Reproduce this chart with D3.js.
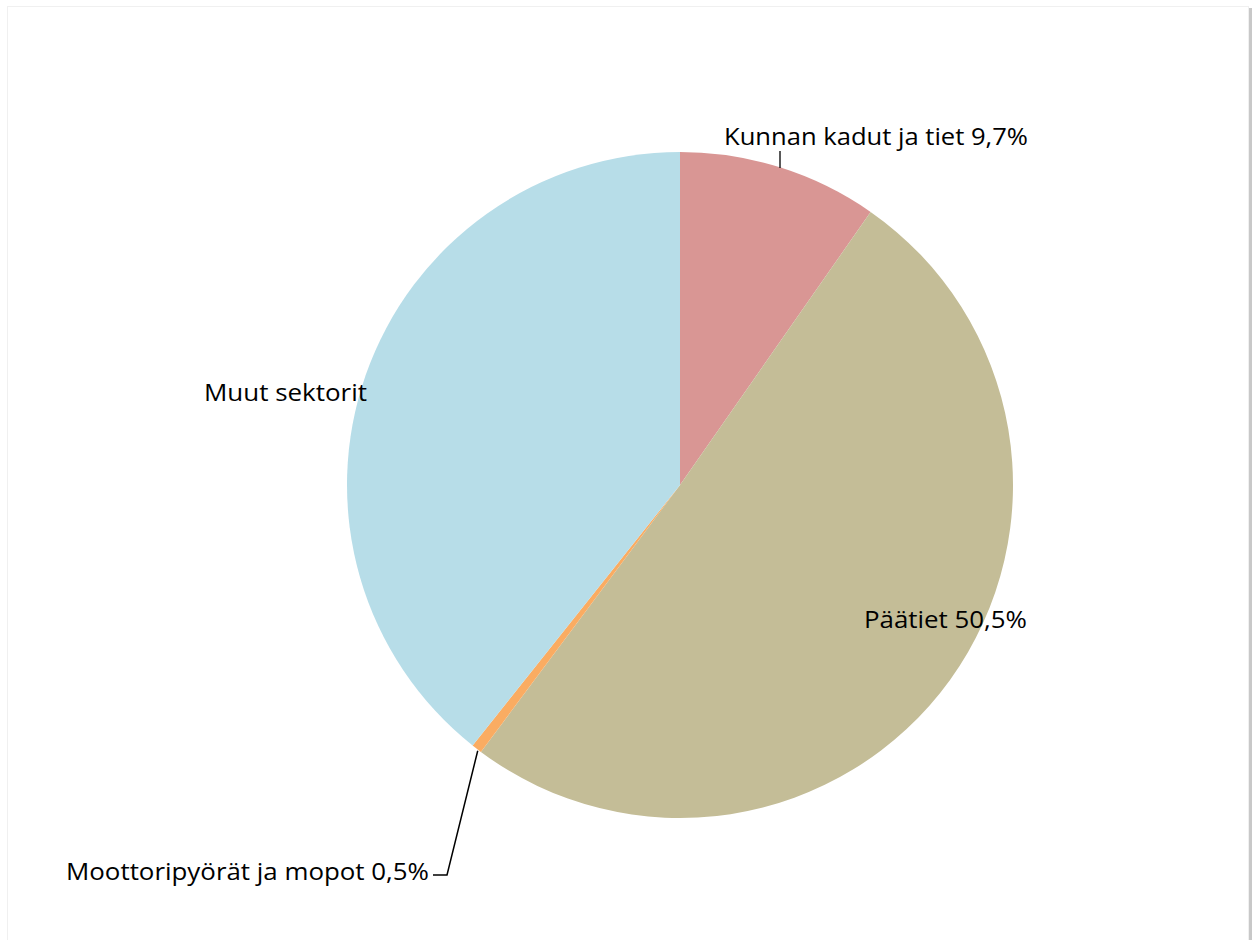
<!DOCTYPE html>
<html>
<head>
<meta charset="utf-8">
<script src="https://cdn.jsdelivr.net/npm/d3@7"></script>
<style>
  body { margin: 0; background: #fff; }
  text { font-family: "Open Sans", "Noto Sans", sans-serif; fill: #000; }
</style>
</head>
<body>
<div id="chart"></div>
<script>
const width = 1252;
const height = 940;

// Data
const categories = ["Kunnan kadut ja tiet", "Päätiet", "Moottoripyörät ja mopot", "Muut sektorit"];
const values = [9.7, 50.5, 0.5, 39.3];
const labels = ["Kunnan kadut ja tiet 9,7%", "Päätiet 50,5%", "Moottoripyörät ja mopot 0,5%", "Muut sektorit"];
const colors = ["#D99694", "#C4BD97", "#FAAC62", "#B7DDE8"];

const data = categories.map((c, i) => ({ name: c, value: values[i], label: labels[i] }));

// Label layout (x, y of text start/baseline, text width)
const labelLayout = [
  { x: 724, y: 145, w: 304 },
  { x: 864, y: 628, w: 163 },
  { x: 66, y: 880, w: 363 },
  { x: 204, y: 401, w: 163 }
];

const cx = 680, cy = 485, radius = 333;

const svg = d3.select("#chart")
  .append("svg")
  .attr("width", width)
  .attr("height", height);

// Chart frame
svg.append("rect")
  .attr("x", 7.5).attr("y", 6.5)
  .attr("width", 1241).attr("height", 940)
  .attr("fill", "#fff")
  .attr("stroke", "#f0f0f0");
svg.append("rect")
  .attr("x", 1249).attr("y", 8)
  .attr("width", 3).attr("height", 932)
  .attr("fill", "#c8c8c8");

const pie = d3.pie()
  .value(d => d.value)
  .sort(null);

const arc = d3.arc().innerRadius(0).outerRadius(radius);

const g = svg.append("g").attr("transform", `translate(${cx},${cy})`);

const arcs = pie(data);

g.selectAll("path")
  .data(arcs)
  .enter()
  .append("path")
  .attr("d", arc)
  .attr("fill", (d, i) => colors[i]);

// Leader lines
const line = d3.line();
const edge = a => {
  const ang = (a.startAngle + a.endAngle) / 2;
  return [cx + radius * Math.sin(ang), cy - radius * Math.cos(ang)];
};
// Kunnan kadut: short vertical tick
svg.append("path")
  .attr("d", line([[780, 151], [780, 168]]))
  .attr("stroke", "#000").attr("stroke-width", 1.3).attr("fill", "none");
// Moottoripyörät
const mEdge = edge(arcs[2]);
svg.append("path")
  .attr("d", line([[mEdge[0] + 1, mEdge[1] + 2], [447, 875], [433, 875]]))
  .attr("stroke", "#000").attr("stroke-width", 1.5).attr("fill", "none");

// Labels
svg.selectAll("text.lbl")
  .data(data)
  .enter()
  .append("text")
  .attr("class", "lbl")
  .attr("x", (d, i) => labelLayout[i].x)
  .attr("y", (d, i) => labelLayout[i].y)
  .attr("textLength", (d, i) => labelLayout[i].w)
  .attr("lengthAdjust", "spacingAndGlyphs")
  .style("font-size", "24px")
  .text(d => d.label);
</script>
</body>
</html>
